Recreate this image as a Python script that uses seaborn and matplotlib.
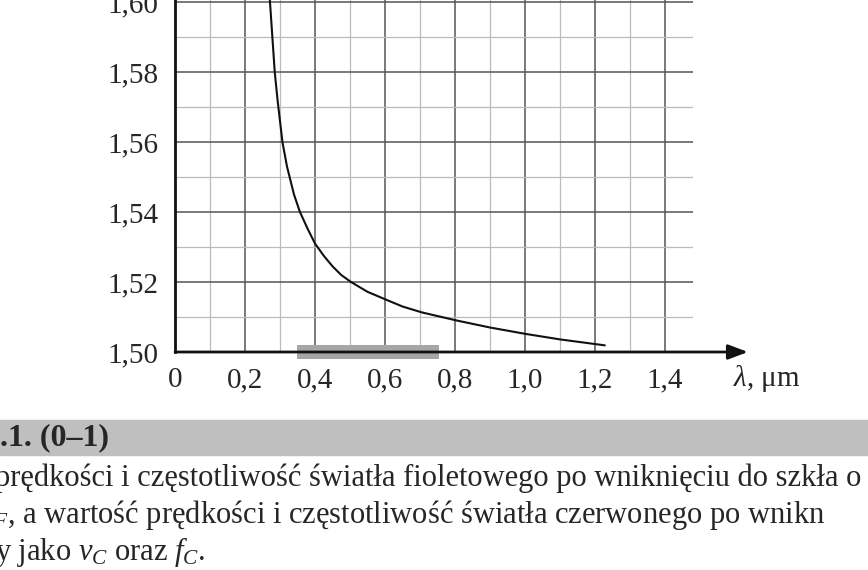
import matplotlib
matplotlib.use("Agg")
import matplotlib.pyplot as plt
import seaborn as sns
import numpy as np
import pandas as pd

wavelength_um = [0.271, 0.285, 0.293, 0.300, 0.307, 0.320, 0.340, 0.357, 0.380, 0.400, 0.425, 0.450,
                 0.475, 0.503, 0.550, 0.602, 0.650, 0.706, 0.805, 0.900, 1.000, 1.100, 1.228]
refr_index = [1.6006, 1.580, 1.572, 1.566, 1.560, 1.553, 1.545, 1.540, 1.535, 1.531, 1.5275, 1.5245,
              1.5220, 1.5200, 1.5172, 1.5150, 1.5130, 1.5113, 1.5090, 1.5070, 1.5052, 1.5036, 1.5019]
visible_range = [0.348, 0.755]
x_ticks = [0.2, 0.4, 0.6, 0.8, 1.0, 1.2, 1.4]
x_tick_labels = ["0,2", "0,4", "0,6", "0,8", "1,0", "1,2", "1,4"]
y_ticks = [1.50, 1.52, 1.54, 1.56, 1.58, 1.60]
y_tick_labels = ["1,50", "1,52", "1,54", "1,56", "1,58", "1,60"]

sns.set_style("white")
plt.rcParams['font.family'] = ['Liberation Serif', 'DejaVu Serif']
plt.rcParams['mathtext.fontset'] = 'custom'
plt.rcParams['mathtext.rm'] = 'Liberation Serif'
plt.rcParams['mathtext.it'] = 'Liberation Serif:italic'

W, H = 868, 570
fig = plt.figure(figsize=(W/100, H/100), dpi=100)
ax = fig.add_axes([175/W, (H-352)/H, 518/W, 352/H])
ax.set_xlim(0, 1.48)
ax.set_ylim(1.50, 1.6006)

for x in np.arange(0.1, 1.45, 0.1):
    major = round(x*10) % 2 == 0
    ax.axvline(x, color="#555555" if major else "#bbbbbb", lw=1.1 if major else 0.9, zorder=1)
for y in np.arange(1.51, 1.6005, 0.01):
    major = round(y*100) % 2 == 0
    ax.axhline(y, color="#555555" if major else "#bbbbbb", lw=1.1 if major else 0.9, zorder=1)

df = pd.DataFrame({"lam": wavelength_um, "n": refr_index})
sns.lineplot(data=df, x="lam", y="n", ax=ax, color="#111111", lw=1.5, zorder=4, sort=True)

ax.fill_between(visible_range, [1.4979]*2, [1.5021]*2, color="#a6a6a6", zorder=3, clip_on=False, lw=0)

for s in ["top", "right", "bottom"]:
    ax.spines[s].set_visible(False)
ax.spines["left"].set_color("#111111")
ax.spines["left"].set_linewidth(2)
ax.annotate("", xy=(1.637, 1.50), xytext=(0, 1.50), xycoords="data",
            arrowprops=dict(arrowstyle="-|>,head_length=1.2,head_width=0.45", color="#111111", lw=2,
                            shrinkA=0, shrinkB=0), annotation_clip=False, zorder=5)

ax.set_xticks([0] + x_ticks)
ax.set_xticklabels(["$\\mathit{0}$"] + x_tick_labels, fontsize=21)
ax.set_yticks(y_ticks)
ax.set_yticklabels(y_tick_labels, fontsize=21)
ax.tick_params(axis="x", direction="out", length=6, width=1.5, color="#111111", pad=5)
ax.tick_params(axis="y", direction="out", length=6, width=1.5, color="#111111", pad=6)
ax.set_xlabel(""); ax.set_ylabel("")
fig.text(733/W, 1-(379)/H, "$\\mathit{\\lambda}$, μm", fontsize=21, va="center", ha="left")

# text band below
fig.patches.append(plt.Rectangle((0, 1-455/H), 1, 35/H, transform=fig.transFigure,
                                 color="#bfbfbf", zorder=0))
fig.text(-16/W, 1-438/H, "8.1. (0–1)", fontsize=23, fontweight="bold", va="center", ha="left")
fig.text(-5/W, 1-478/H, "prędkości i częstotliwość światła fioletowego po wniknięciu do szkła o",
         fontsize=22, va="center", ha="left")
fig.text(-7/W, 1-515/H, "$_F$, a wartość prędkości i częstotliwość światła czerwonego po wnikn",
         fontsize=22, va="center", ha="left")
fig.text(-5/W, 1-552/H, "y jako $\\mathit{v}_C$ oraz $\\mathit{f}_C$.",
         fontsize=22, va="center", ha="left")

fig.savefig("out.png", dpi=100)
